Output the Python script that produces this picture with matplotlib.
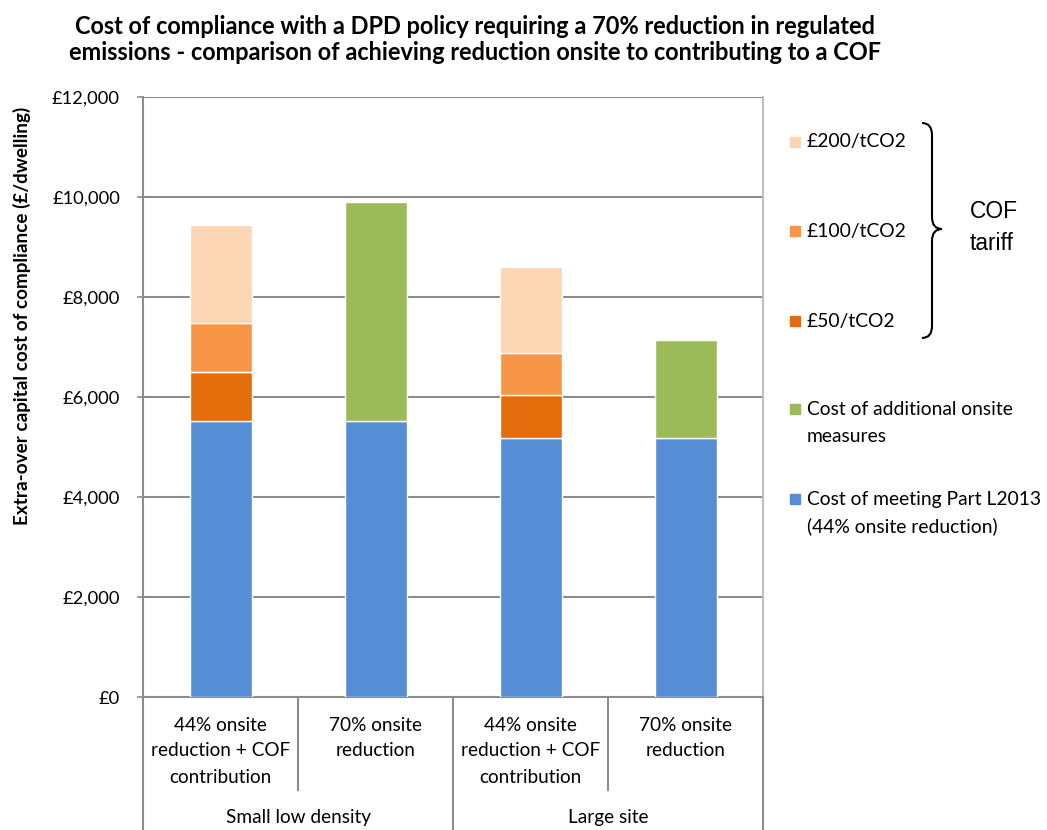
import matplotlib
matplotlib.use("Agg")
import matplotlib.pyplot as plt
import matplotlib.transforms as mtransforms
from matplotlib.patches import Rectangle, PathPatch
from matplotlib.path import Path
from matplotlib.ticker import FuncFormatter, MultipleLocator

# ---- data (£ per dwelling) ----
groups = ["Small low density", "Large site"]
options = ["44% onsite\nreduction + COF\ncontribution", "70% onsite\nreduction"]
part_l2013 = [5530, 5530, 5180, 5180]
cof_50 = [975, 0, 860, 0]
cof_100 = [985, 0, 850, 0]
cof_200 = [1960, 0, 1720, 0]
additional_onsite = [0, 4380, 0, 1970]

series_labels = ["£200/tCO2", "£100/tCO2", "£50/tCO2",
                 "Cost of additional onsite\nmeasures",
                 "Cost of meeting Part L2013\n(44% onsite reduction)"]
title_lines = ["Cost of compliance with a DPD policy requiring a 70% reduction in regulated",
               "emissions - comparison of achieving reduction onsite to contributing to a COF"]
y_label = "Extra-over capital cost of compliance (£/dwelling)"

C_BLUE = "#558ED5"
C_DORANGE = "#E46C0A"
C_ORANGE = "#F79646"
C_PEACH = "#FCD5B5"
C_GREEN = "#9BBB59"
GRID = "#8C8C8C"

FONT = "Lato"
plt.rcParams["font.family"] = [FONT, "DejaVu Sans"]

W, H = 1047, 830
fig = plt.figure(figsize=(W / 100, H / 100), dpi=100)
renderer = fig.canvas.get_renderer()


def fx(x):
    return x / W


def fy(y):
    return 1 - y / H


def size_for(s, target_px, weight="normal", family=None):
    """Font size (pt) at which string s renders target_px wide."""
    t = fig.text(0, 0, s, fontsize=20, fontweight=weight,
                 family=family or [FONT, "DejaVu Sans"])
    w = t.get_window_extent(renderer).width
    t.remove()
    return 20 * target_px / w


ax = fig.add_axes([fx(143), fy(697), (763 - 143) / W, (697 - 97) / H])

x = list(range(len(part_l2013)))
width = 0.4
kw = dict(width=width, edgecolor="white", linewidth=1.0, zorder=3)

bottom = [0] * len(x)
for vals, col in [(part_l2013, C_BLUE), (cof_50, C_DORANGE),
                  (cof_100, C_ORANGE), (cof_200, C_PEACH),
                  (additional_onsite, C_GREEN)]:
    idx = [i for i, v in enumerate(vals) if v > 0]
    ax.bar([x[i] for i in idx], [vals[i] for i in idx],
           bottom=[bottom[i] for i in idx], color=col, **kw)
    bottom = [b + v for b, v in zip(bottom, vals)]

tick_fs = size_for("£12,000", 68)
body_fs = size_for("reduction + COF", 140)
legend_fs = size_for("Cost of meeting Part L2013", 235)
title_fs = size_for(title_lines[1], 816, weight="bold")
ylabel_fs = size_for(y_label, 417, weight="bold")
cof_fs = size_for("COF", 48, family="Liberation Sans")

ax.set_xlim(-0.5, len(x) - 0.5)
ax.set_ylim(0, 12000)
ax.yaxis.set_major_locator(MultipleLocator(2000))
ax.yaxis.set_major_formatter(FuncFormatter(lambda v, p: "£{:,.0f}".format(v)))
ax.grid(axis="y", color=GRID, linewidth=1.5, zorder=0)
ax.set_axisbelow(True)
ax.set_xticks([])
ax.tick_params(axis="y", length=6 * 0.72, width=1.2, color=GRID,
               labelsize=tick_fs, pad=17 * 0.72, labelcolor="black")

for side in ["left", "bottom"]:
    ax.spines[side].set_color(GRID)
    ax.spines[side].set_linewidth(1.5)
ax.spines["top"].set_visible(False)
ax.spines["right"].set_color("#BFBFBF")
ax.spines["right"].set_linewidth(1.5)

fig.text(fx(22), fy(316), y_label, rotation=90, ha="center", va="center",
         fontsize=ylabel_fs, fontweight="bold")

# ---- two-level category axis ----
bt = mtransforms.blended_transform_factory(ax.transData, fig.transFigure)
for xb in [-0.5, 1.5, 3.5]:
    ax.plot([xb, xb], [fy(697), fy(830)], transform=bt, color=GRID,
            lw=1.5, clip_on=False)
for xb in [0.5, 2.5]:
    ax.plot([xb, xb], [fy(697), fy(790)], transform=bt, color=GRID,
            lw=1.5, clip_on=False)

line_pitch = 26
for gi, g in enumerate(groups):
    for oi, opt in enumerate(options):
        xi = gi * len(options) + oi
        for li, line in enumerate(opt.split("\n")):
            ax.text(xi, fy(725 + li * line_pitch), line, transform=bt,
                    ha="center", va="center", fontsize=body_fs)
    ax.text(gi * len(options) + 0.5, fy(817), g, transform=bt,
            ha="center", va="center", fontsize=body_fs)

# ---- title ----
for li, line in enumerate(title_lines):
    fig.text(fx(475), fy(26 + li * 27), line, ha="center", va="center",
             fontsize=title_fs, fontweight="bold")

# ---- legend ----
legend_colors = [C_PEACH, C_ORANGE, C_DORANGE, C_GREEN, C_BLUE]
legend_y = [142, 231, 321, 409, 499]
for lab, col, yy in zip(series_labels, legend_colors, legend_y):
    fig.patches.append(Rectangle((fx(790), fy(yy + 5)), 10 / W, 10 / H,
                                 transform=fig.transFigure, color=col))
    for li, line in enumerate(lab.split("\n")):
        fig.text(fx(807), fy(yy + li * 27), line, ha="left", va="center",
                 fontsize=legend_fs)

# curly brace grouping the COF tariff entries
pts = [(922, 123), (932, 123), (932, 135), (932, 217), (932, 229), (942, 229),
       (932, 229), (932, 241), (932, 326), (932, 338), (922, 338)]
codes = [Path.MOVETO, Path.CURVE3, Path.CURVE3, Path.LINETO, Path.CURVE3,
         Path.CURVE3, Path.CURVE3, Path.CURVE3, Path.LINETO, Path.CURVE3,
         Path.CURVE3]
brace = Path([(fx(a), fy(b)) for a, b in pts], codes)
fig.patches.append(PathPatch(brace, transform=fig.transFigure, fill=False,
                             edgecolor="black", lw=1.5))
fig.text(fx(970), fy(212), "COF", ha="left", va="center", fontsize=cof_fs,
         family="Liberation Sans")
fig.text(fx(970), fy(243), "tariff", ha="left", va="center", fontsize=cof_fs,
         family="Liberation Sans")

fig.savefig("out.png", dpi=100)
